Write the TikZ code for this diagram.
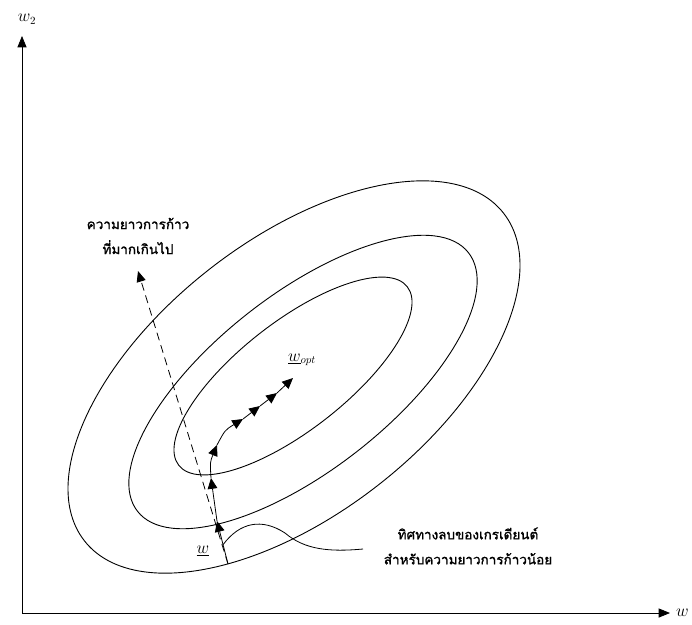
\documentclass[tikz,border=0pt]{standalone}
\usepackage{fontspec}
\usepackage{tikz}
\usetikzlibrary{arrows.meta,positioning,calc}
\newfontfamily\thaifont[Script=Thai,AutoFakeBold=1.4]{Loma}
\tikzset{
  axis/.style={-{Triangle[length=4mm,width=3.2mm]}, line width=0.8pt},
  contour/.style={line width=0.9pt},
  steparrow/.style={-{Triangle[length=3.8mm,width=3.4mm]}, line width=0.8pt},
  bigstep/.style={-{Triangle[length=3.8mm,width=3.2mm]}, line width=0.8pt, dash pattern=on 8pt off 5pt},
  leader/.style={line width=0.8pt},
  thaitext/.style={font=\thaifont\bfseries\fontsize{13.5}{25}\selectfont, align=center, inner sep=1pt},
  wlabel/.style={font=\fontsize{16}{16}\selectfont, inner sep=1pt},
}

\begin{document}
\begin{tikzpicture}[x=1pt, y=-1pt]
  \useasboundingbox (0,0) rectangle (692,624);

  % --- axes -----------------------------------------------------------------
  \coordinate (origin) at (22,613);
  \coordinate (w2tip)  at (22,36);
  \coordinate (w1tip)  at (670,613);
  \draw[axis] (origin) -- (w2tip);
  \draw[axis] (origin) -- (w1tip);
  \node[wlabel] (w2label) at (27,19) {$w_2$};
  \node[wlabel, anchor=west] (w1label) at (675,613) {$w$};

  % --- error surface contours -------------------------------------------------
  \draw[contour] (294,377) ellipse [x radius=266, y radius=137, rotate=38];
  \draw[contour] (303,382) ellipse [x radius=210, y radius=88, rotate=38];
  \draw[contour] (293,376) ellipse [x radius=145, y radius=54, rotate=38];

  % --- small steps along the negative gradient --------------------------------
  \coordinate (p0) at (228,564);
  \coordinate (p1) at (217,521);
  \coordinate (p2) at (211,478);
  \coordinate (p3) at (217,445);
  \coordinate (p4) at (243,419);
  \coordinate (p5) at (260,406);
  \coordinate (p6) at (277,393);
  \coordinate (p7) at (293,378);
  \draw[steparrow] (p0) -- (p1);
  \draw[steparrow] (p1) -- (p2);
  \draw[steparrow] (p2) .. controls (210,462) .. (p3);
  \draw[steparrow] (p3) .. controls (225,430) .. (p4);
  \draw[steparrow] (p4) -- (p5);
  \draw[steparrow] (p5) -- (p6);
  \draw[steparrow] (p6) -- (p7);

  \node[wlabel] (wstart) at (203,551) {$\underline{w}$};
  \node[wlabel] (wopt)   at (302,360) {$\underline{w}_{opt}$};

  % --- one step that is too long ----------------------------------------------
  \coordinate (overshoot) at (138,271);
  \draw[bigstep] (p0) -- (overshoot);
  \node[thaitext] (overshootlabel) at (138,236) {ความยาวการก้าว\\ที่มากเกินไป};

  % --- leader to the small-step path ------------------------------------------
  \node[thaitext] (smalllabel) at (468,546) {ทิศทางลบของเกรเดียนต์\\สำหรับความยาวการก้าวน้อย};
  \coordinate (leadstart) at ($(p0)!0.45!(p1)$);
  \coordinate (leadend) at (363,549);
  \draw[leader] (leadstart) .. controls (240,522) and (262,518) .. (285,533)
                .. controls (305,550) and (330,552) .. (leadend);

\end{tikzpicture}
\end{document}
